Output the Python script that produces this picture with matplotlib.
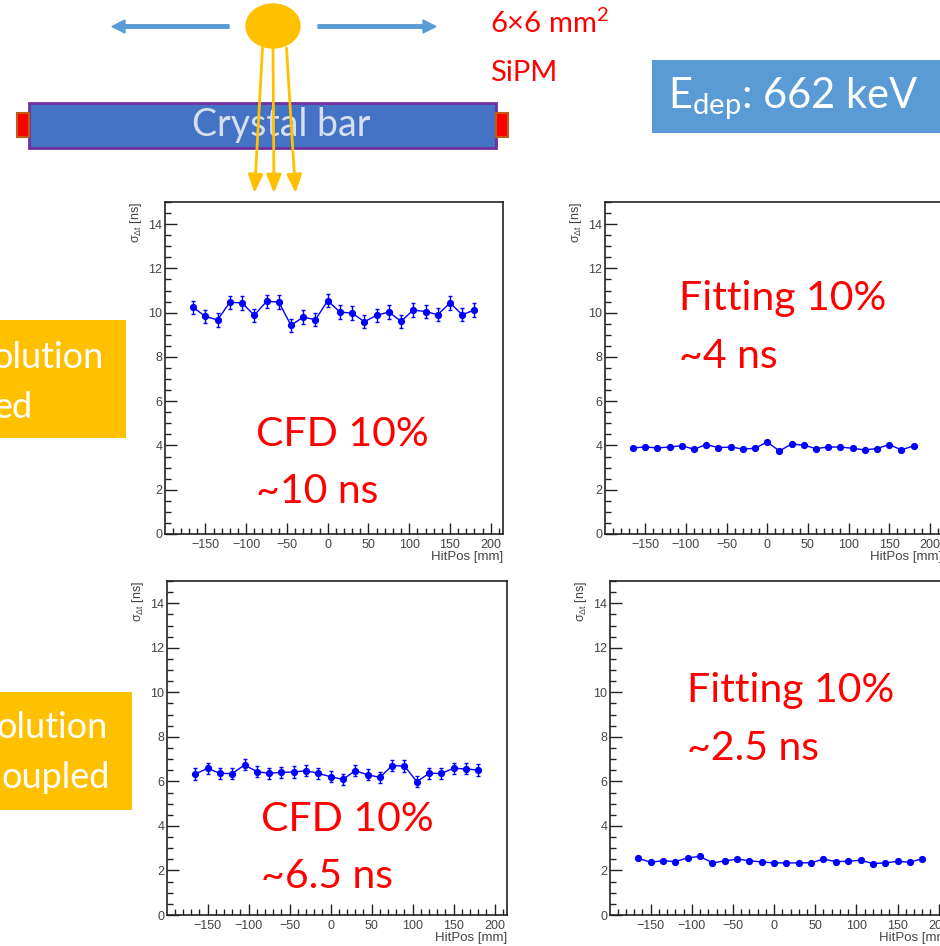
import matplotlib.pyplot as plt
from matplotlib.patches import Rectangle, Ellipse, FancyArrow
from matplotlib.ticker import MultipleLocator

# hit positions along the bar [mm]
hitpos = [-165, -150, -135, -120, -105, -90, -75, -60, -45, -30, -15, 0,
          15, 30, 45, 60, 75, 90, 105, 120, 135, 150, 165, 180]

# sigma of delta t [ns]
cfd_single = [10.24, 9.83, 9.67, 10.47, 10.44, 9.88, 10.51, 10.48, 9.43, 9.80, 9.68, 10.54,
              10.03, 9.98, 9.59, 9.88, 10.03, 9.61, 10.12, 10.05, 9.91, 10.44, 9.91, 10.12]
cfd_single_err = [0.30, 0.30, 0.30, 0.30, 0.30, 0.30, 0.30, 0.30, 0.30, 0.30, 0.30, 0.30,
                  0.30, 0.30, 0.30, 0.30, 0.30, 0.30, 0.30, 0.30, 0.30, 0.30, 0.30, 0.30]
fit_single = [3.89, 3.93, 3.89, 3.93, 3.99, 3.83, 4.04, 3.90, 3.93, 3.84, 3.87, 4.16,
              3.75, 4.07, 4.01, 3.86, 3.93, 3.93, 3.87, 3.80, 3.86, 4.04, 3.80, 3.98]
cfd_coupled = [6.33, 6.59, 6.36, 6.35, 6.74, 6.44, 6.36, 6.41, 6.42, 6.48, 6.36, 6.21,
               6.09, 6.48, 6.30, 6.18, 6.71, 6.69, 5.99, 6.36, 6.36, 6.59, 6.56, 6.51]
cfd_coupled_err = [0.25, 0.25, 0.25, 0.25, 0.25, 0.25, 0.25, 0.25, 0.25, 0.25, 0.25, 0.25,
                   0.25, 0.25, 0.25, 0.25, 0.25, 0.25, 0.25, 0.25, 0.25, 0.25, 0.25, 0.25]
fit_coupled = [2.54, 2.37, 2.44, 2.40, 2.57, 2.63, 2.34, 2.43, 2.51, 2.44, 2.38, 2.34,
               2.34, 2.34, 2.35, 2.51, 2.40, 2.41, 2.46, 2.31, 2.34, 2.41, 2.37, 2.53]

W, H = 940, 946
fig = plt.figure(figsize=(W / 100, H / 100), dpi=100)
fig.patch.set_facecolor('white')

SLIDE = 'Lato'
ROOTF = 'Liberation Sans'


def px_axes(l, t, r, b):
    return fig.add_axes([l / W, 1 - b / H, (r - l) / W, (b - t) / H])


def root_panel(ax, y, yerr):
    if yerr is None:
        ax.plot(hitpos, y, color='#0000ff', lw=1.0, marker='o', ms=4.2)
    else:
        ax.errorbar(hitpos, y, yerr=yerr, color='#0000ff', lw=1.0, marker='o', ms=4.2,
                    elinewidth=1.0, capsize=1.5)
    ax.set_xlim(-199.5, 215)
    ax.set_ylim(0, 15)
    ax.xaxis.set_major_locator(MultipleLocator(50))
    ax.xaxis.set_minor_locator(MultipleLocator(10))
    ax.yaxis.set_major_locator(MultipleLocator(2))
    ax.yaxis.set_minor_locator(MultipleLocator(0.5))
    ax.tick_params(which='both', direction='in', top=False, right=False,
                   colors='#222222', labelcolor='#444444', labelsize=9, width=1.0)
    ax.tick_params(axis='y', which='major', length=8.5, pad=2)
    ax.tick_params(axis='y', which='minor', length=4.5)
    ax.tick_params(axis='x', which='major', length=8, pad=3.5)
    ax.tick_params(axis='x', which='minor', length=4)
    for lab in ax.get_xticklabels() + ax.get_yticklabels():
        lab.set_family(ROOTF)
    for sp in ax.spines.values():
        sp.set_linewidth(1.2)
        sp.set_color('#222222')
    h = ax.bbox.height
    wdt = ax.bbox.width
    ax.text(-29 / wdt, 1.0, 'σ$_{\\mathregular{Δt}}$ [ns]', transform=ax.transAxes, rotation=90,
            ha='center', va='top', fontsize=9, color='#444444', family=ROOTF)
    ax.text(1.0, -23 / h, 'HitPos [mm]', transform=ax.transAxes, ha='right', va='center',
            fontsize=9.5, color='#444444', family=ROOTF)


panels = [
    ((165, 202, 503, 534), cfd_single, cfd_single_err),
    ((605, 202, 942, 534), fit_single, None),
    ((167, 581, 507, 915), cfd_coupled, cfd_coupled_err),
    ((610, 581, 951, 915), fit_coupled, None),
]
for box, y, yerr in panels:
    ax = px_axes(*box)
    root_panel(ax, y, yerr)

# slide decorations drawn in pixel coordinates
ov = fig.add_axes([0, 0, 1, 1], zorder=10)
ov.set_xlim(0, W)
ov.set_ylim(H, 0)
ov.axis('off')
ov.patch.set_visible(False)

# SiPM moving along the bar
ov.add_patch(Ellipse((273, 26), 54, 44, color='#ffc000'))
ov.add_patch(FancyArrow(229, 26.5, -104, 0, width=3.5, head_width=13, head_length=13,
                        length_includes_head=False, color='#5b9bd5'))
ov.add_patch(FancyArrow(318, 26.5, 105, 0, width=3.5, head_width=13, head_length=13,
                        length_includes_head=False, color='#5b9bd5'))

# crystal bar with end SiPMs
ov.add_patch(Rectangle((29, 103), 467, 45, facecolor='#4472c4', edgecolor='#7030a0', lw=2))
ov.add_patch(Rectangle((17, 113), 12, 24, facecolor='#ff0000', edgecolor='#c55a11', lw=1.5))
ov.add_patch(Rectangle((496, 113), 12, 24, facecolor='#ff0000', edgecolor='#c55a11', lw=1.5))
ov.text(281, 125, 'Crystal bar', ha='center', va='center', fontsize=27, color='#d6dff0',
        family=SLIDE)

# light rays
for x0, x1 in [(262.5, 254.5), (273, 274), (286.5, 295.5)]:
    ov.annotate('', xy=(x1, 193), xytext=(x0, 48),
                arrowprops=dict(arrowstyle='-|>,head_length=1.1,head_width=0.45',
                                color='#ffc000', lw=2, shrinkA=0, shrinkB=0))

ov.text(490, 33, '6×6 mm$^{\\mathregular{2}}$', ha='left', va='baseline', fontsize=21,
        color='#ff0000', family=SLIDE)
ov.text(490, 81, 'SiPM', ha='left', va='baseline', fontsize=21, color='#ff0000', family=SLIDE)

# energy box
ov.add_patch(Rectangle((652, 60), 300, 73, facecolor='#5b9bd5', edgecolor='none'))
ov.text(668, 98, 'E$_{\\mathregular{dep}}$: 662 keV', ha='left', va='center', fontsize=30,
        color='white', family=SLIDE)

# row labels (cut at the left edge)
ov.add_patch(Rectangle((-5, 320), 131, 118, facecolor='#ffc000', edgecolor='none'))
ov.text(104, 368, 'olution', ha='right', va='baseline', fontsize=26, color='white', family=SLIDE)
ov.text(33, 418, 'ed', ha='right', va='baseline', fontsize=26, color='white', family=SLIDE)
ov.add_patch(Rectangle((-5, 692), 137, 118, facecolor='#ffc000', edgecolor='none'))
ov.text(108, 738, 'olution', ha='right', va='baseline', fontsize=26, color='white', family=SLIDE)
ov.text(110, 788, 'oupled', ha='right', va='baseline', fontsize=26, color='white', family=SLIDE)

# method annotations
notes = [
    (256, 446, 'CFD 10%'), (256, 503, '~10 ns'),
    (679, 310, 'Fitting 10%'), (679, 368, '~4 ns'),
    (261, 831, 'CFD 10%'), (261, 888, '~6.5 ns'),
    (687, 702, 'Fitting 10%'), (687, 760, '~2.5 ns'),
]
for x, y, s in notes:
    ov.text(x, y, s, ha='left', va='baseline', fontsize=29.5, color='#ff0000', family=SLIDE)

fig.savefig('out.png', dpi=100)
